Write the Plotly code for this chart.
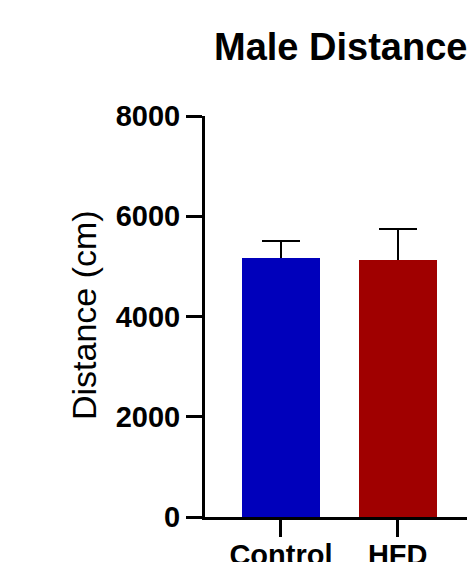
import plotly.graph_objects as go

categories = ["Control", "HFD"]
means = [5160, 5120]
sem_upper = [345, 625]
bar_colors = ["#0000BB", "#A00000"]
y_ticks = [0, 2000, 4000, 6000, 8000]

W, H = 467, 562
L, R, T, B = 205, 0, 116, 45

fig = go.Figure()
# bars carrying the upper error bars (lower cap hidden inside the bar)
fig.add_trace(go.Bar(
    x=categories, y=means, width=0.668,
    marker=dict(color=bar_colors, line=dict(width=0)),
    error_y=dict(type="data", array=sem_upper, arrayminus=[80, 80], symmetric=False,
                 thickness=2, width=19, color="black"),
    showlegend=False, hoverinfo="skip",
))
# same bars drawn again on top to cover the lower part of the error bars
fig.add_trace(go.Bar(
    x=categories, y=means, width=0.668,
    marker=dict(color=bar_colors, line=dict(width=0)),
    showlegend=False,
))

fig.update_layout(
    width=W, height=H,
    margin=dict(l=L, r=R, t=T, b=B, autoexpand=False),
    paper_bgcolor="white", plot_bgcolor="white",
    font=dict(family="Liberation Sans", color="black"),
    barmode="overlay", bargap=0,
)
fig.update_xaxes(
    type="category", range=[-0.651, 1.594],
    showline=True, linecolor="black", linewidth=3,
    ticks="outside", ticklen=17, tickwidth=3, tickcolor="black",
    ticklabelstandoff=-7,
    tickfont=dict(family="Liberation Sans", size=29, weight="bold", color="black"),
    showgrid=False, zeroline=False, fixedrange=True,
)
fig.update_yaxes(
    range=[0, 8000], tickvals=y_ticks, ticktext=[str(v) for v in y_ticks],
    showline=True, linecolor="black", linewidth=3,
    ticks="outside", ticklen=16, tickwidth=3, tickcolor="black",
    tickfont=dict(family="Liberation Sans", size=29, weight="bold", color="black"),
    showgrid=False, zeroline=False, fixedrange=True,
)

pw = W - L - R
ph = H - T - B
fig.add_annotation(
    text="<b>Male Distance</b>", xref="paper", yref="paper",
    x=(211.7 - L) / pw, xanchor="left", y=1, yanchor="middle", yshift=116 - 47,
    showarrow=False, font=dict(family="Liberation Sans", size=38, color="black"),
)
fig.add_annotation(
    text="Distance (cm)", xref="paper", yref="paper", textangle=-90,
    x=(84 - L) / pw, xanchor="center", y=(517 - 315) / ph, yanchor="middle",
    showarrow=False, font=dict(family="Liberation Sans", size=34, color="black"),
)

fig.write_html("out.html")
